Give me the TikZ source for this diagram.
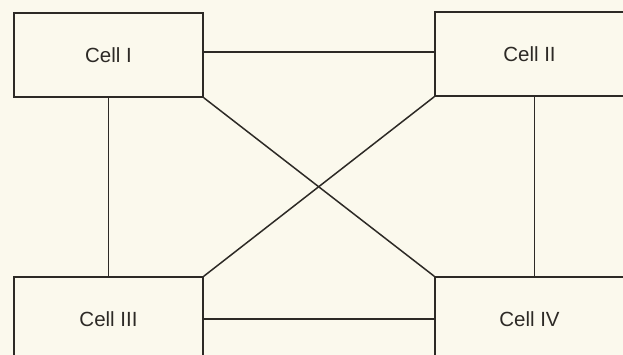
\documentclass[tikz,border=0pt]{standalone}
\usepackage{fontspec}
\setmainfont{Liberation Sans}
\definecolor{paper}{RGB}{251,249,237}
\definecolor{ink}{RGB}{45,42,38}
\begin{document}
\begin{tikzpicture}[x=1pt,y=1pt,
  cell/.style={draw=ink, line width=1.5pt, fill=paper, minimum width=189pt, minimum height=84pt, inner sep=0pt, text=ink, font=\fontsize{20.5}{24}\selectfont},
  link/.style={draw=ink, line width=1.5pt}]
\useasboundingbox (0,0) rectangle (623,355);
\clip (0,0) rectangle (623,355);
\fill[paper] (0,0) rectangle (623,355);
\node[cell] (c1) at (108.5,300) {Cell I};
\node[cell] (c2) at (529.5,301) {Cell II};
\node[cell] (c3) at (108.5,36) {Cell III};
\node[cell] (c4) at (529.5,36) {Cell IV};
\draw[link] ([yshift=3pt]c1.east) -- ([yshift=3pt]c1.east -| c2.west);
\draw[link] (c1.south) -- (c3.north);
\draw[link] ([xshift=5pt]c2.south) -- ([xshift=5pt]c2.south |- c4.north);
\draw[link] (c3.east) -- (c4.west);
\draw[link] (c1.south east) -- (c4.north west);
\draw[link] (c2.south west) -- (c3.north east);
\end{tikzpicture}
\end{document}
